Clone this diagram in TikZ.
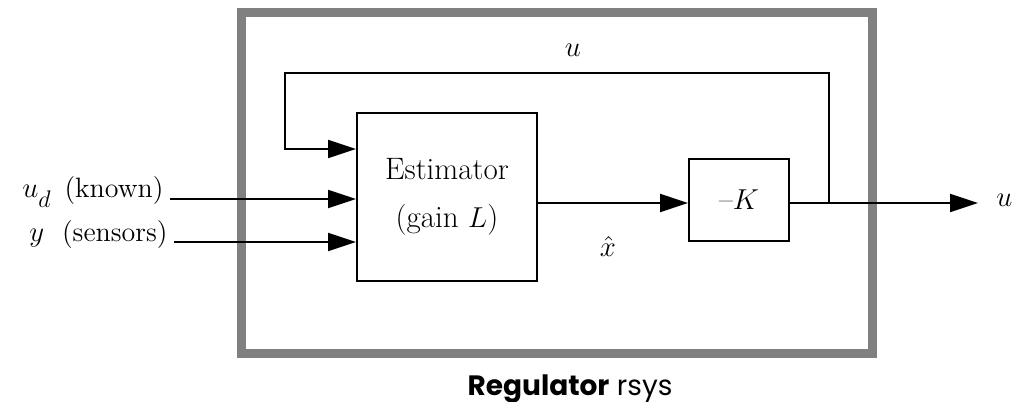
\documentclass[tikz,border=0pt]{standalone}
\usepackage{fontspec}
\newfontfamily\regfont{Poppins}
\usetikzlibrary{positioning,arrows.meta,calc}

\begin{document}
\begin{tikzpicture}[x=0.5pt, y=-0.5pt,
    block/.style={draw, line width=1pt, rectangle, align=center, inner sep=0pt},
    arrow/.style={-{Triangle[length=14pt, width=9pt]}, line width=1pt},
    wire/.style={line width=1pt},
    lbl/.style={font=\fontsize{14}{16}\selectfont, inner sep=0pt}
]
\useasboundingbox (0,0) rectangle (1014,402);

% --- Marco del regulador ---
\node[draw=gray, line width=4.5pt, minimum width=315.75pt, minimum height=170.5pt, inner sep=0pt] (frame) at (556.75,183) {};
\node[font=\regfont\fontsize{14}{16}\selectfont, anchor=base, inner sep=0pt] (title) at (570,395) {\textbf{Regulator} rsys};

% --- Bloques: estimador y ganancia ---
\node[block, minimum width=90pt, minimum height=84pt, font=\fontsize{15.5}{24}\selectfont] (est) at (447,197) {Estimator\\(gain $L$)};
\node[block, minimum width=50pt, minimum height=41pt, font=\fontsize{15}{18}\selectfont] (gain) at (739,200) {--$K$};

% --- Puntos de las conexiones ---
\coordinate (udin) at (170,199);
\coordinate (yin) at (174,242);
\coordinate (branch) at (829,203);
\coordinate (uout) at (978,203);
\coordinate (fbr) at (829,73);
\coordinate (fbl) at (285,73);
\coordinate (fbin) at (285,149);

% --- Etiquetas ---
\node[lbl, anchor=base east] (ud) at ($(udin)+(-6,-2)$) {$u$\raisebox{-5pt}{\fontsize{12}{12}\selectfont$d$}\hspace{7pt}(known)};
\node[lbl, anchor=base east] (ys) at ($(yin)+(-6,-1)$) {$y$\hspace{9pt}(sensors)};
\node[lbl] (ufb) at (573,50) {$u$};
\node[lbl] (xhat) at (608,246) {$\hat{x}$};
\node[lbl, anchor=west] (uo) at (996,200) {$u$};

% --- Conexiones ---
\draw[arrow] (udin) -- (udin -| est.west);
\draw[arrow] (yin) -- (yin -| est.west);
\draw[arrow] (est.east |- branch) -- (gain.west |- branch);
\draw[wire] (gain.east |- branch) -- (branch);
\draw[arrow] (branch) -- (uout);
\draw[arrow] (branch) -- (fbr) -- (fbl) -- (fbin) -- (fbin -| est.west);

\end{tikzpicture}
\end{document}
